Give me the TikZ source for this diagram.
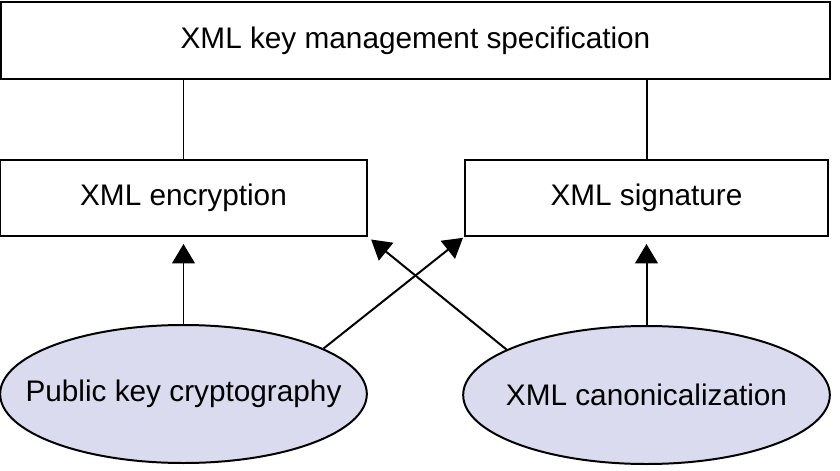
\documentclass[tikz,border=0pt]{standalone}
\usepackage{fontspec}
\setmainfont{Liberation Sans}
\usetikzlibrary{shapes.geometric,arrows.meta}
\definecolor{ovalfill}{RGB}{218,219,238}
\tikzset{
  layerbox/.style={draw=black, line width=1.7pt, fill=white, inner sep=0pt,
    font=\fontsize{25.4}{30}\selectfont},
  basisoval/.style={ellipse, draw=black, line width=1.7pt, fill=ovalfill, inner sep=0pt,
    minimum width=11.0cm, minimum height=4.14cm, font=\fontsize{25.4}{30}\selectfont},
  joinline/.style={line width=1.7pt, draw=black},
  usesarrow/.style={line width=1.7pt, draw=black, -{Triangle[length=0.58cm, width=0.68cm]}},
}

\begin{document}
\begin{tikzpicture}
\useasboundingbox (0,0) rectangle (25.2,14.1);
\node[layerbox, minimum width=24.87cm, minimum height=2.31cm] (spec) at (12.465,12.885) {XML key management specification};
\node[layerbox, minimum width=11.01cm, minimum height=2.28cm] (enc) at (5.505,8.16) {XML encryption};
\node[layerbox, minimum width=10.89cm, minimum height=2.28cm] (sig) at (19.395,8.16) {XML signature};
\node[basisoval] (pkc) at (5.505,2.28) {\makebox[0pt]{Public key cryptography}};
\node[basisoval] (canon) at (19.395,2.25) {\makebox[0pt]{XML canonicalization}};
\draw[joinline] (spec.south -| enc.north) -- (enc.north);
\draw[joinline] (spec.south -| sig.north) -- (sig.north);
\draw[usesarrow, shorten >=0.21cm] (pkc.north) -- (enc.south);
\draw[usesarrow, shorten >=0.21cm] (canon.north) -- (sig.south);
\draw[usesarrow, shorten >=0.04cm] (pkc.18) -- (sig.south west);
\draw[usesarrow, shorten >=0.12cm] (canon.162) -- (enc.south east);
\end{tikzpicture}
\end{document}
